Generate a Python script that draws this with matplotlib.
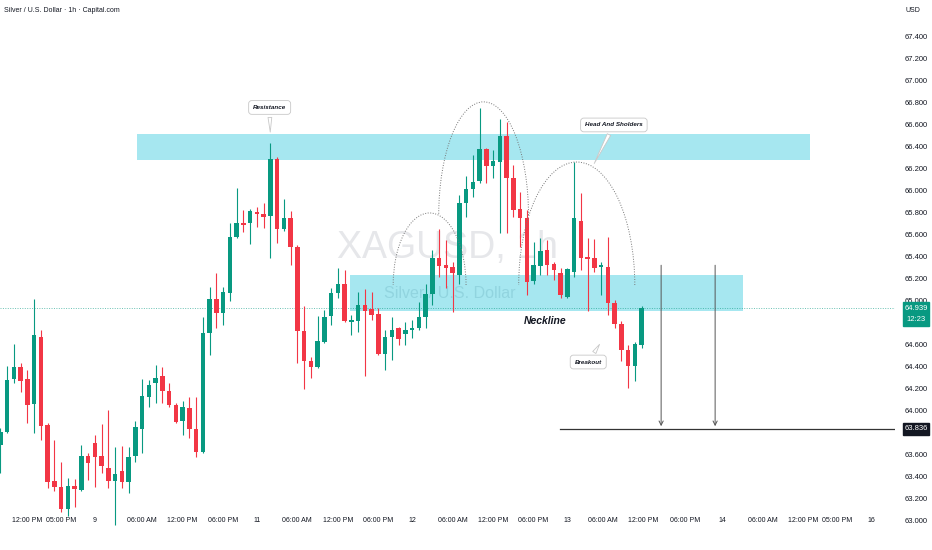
import numpy as np
import matplotlib
matplotlib.use("Agg")
import matplotlib.pyplot as plt
import matplotlib.transforms as mtransforms
from matplotlib.patches import Rectangle, Arc

# Silver / U.S. Dollar, 1h candles
opens = [63.69, 63.81, 64.29, 64.40, 64.29, 64.06, 64.67, 63.87, 63.36, 63.31,
         63.11, 63.32, 63.28, 63.59, 63.71, 63.59, 63.48, 63.36, 63.45, 63.35,
         63.59, 63.84, 64.13, 64.25, 64.32, 64.18, 64.05, 63.91, 64.03, 63.84,
         63.63, 64.71, 65.02, 64.89, 65.07, 65.58, 65.71, 65.71, 65.81, 65.79,
         65.77, 66.29, 65.65, 65.75, 65.49, 64.73, 64.45, 64.40, 64.63, 64.86,
         65.07, 65.15, 64.81, 64.82, 64.96, 64.93, 64.88, 64.52, 64.67, 64.75,
         64.70, 64.74, 64.75, 64.85, 65.06, 65.39, 65.33, 65.31, 65.24, 65.89,
         66.02, 66.09, 66.38, 66.23, 66.26, 66.50, 66.12, 65.84, 65.75, 65.18,
         65.32, 65.46, 65.34, 65.25, 65.04, 65.26, 65.73, 65.40, 65.39, 65.31,
         65.31, 64.98, 64.79, 64.55, 64.41, 64.60]
highs = [63.845, 64.41, 64.61, 64.44, 64.37, 65.02, 64.74, 63.89, 63.74, 63.54,
         63.39, 63.38, 63.69, 63.62, 63.78, 63.88, 64.01, 63.67, 63.68, 63.67,
         63.91, 64.29, 64.28, 64.42, 64.40, 64.25, 64.07, 64.09, 64.13, 64.13,
         64.85, 65.13, 65.25, 65.13, 65.71, 66.03, 65.83, 65.84, 65.85, 65.89,
         66.44, 66.31, 65.93, 65.82, 65.51, 64.95, 64.49, 64.86, 64.92, 65.12,
         65.30, 65.28, 64.87, 65.08, 65.11, 65.08, 64.94, 64.74, 64.85, 64.76,
         64.81, 64.83, 64.99, 65.15, 65.46, 65.65, 65.55, 65.35, 65.96, 66.14,
         66.33, 66.75, 66.39, 66.37, 66.65, 66.63, 66.24, 65.99, 65.83, 65.54,
         65.57, 65.55, 65.35, 65.30, 65.30, 66.26, 65.98, 65.57, 65.56, 65.35,
         65.58, 65.01, 64.82, 64.60, 64.63, 64.95]
lows = [63.436, 63.80, 64.25, 64.17, 63.89, 63.80, 63.74, 63.30, 63.27, 63.08,
        63.045, 63.13, 63.27, 63.37, 63.31, 63.44, 63.30, 62.96, 63.30, 63.25,
        63.54, 63.62, 64.04, 64.07, 64.07, 64.04, 63.89, 63.78, 63.75, 63.58,
        63.62, 64.51, 64.75, 64.78, 65.00, 65.57, 65.63, 65.52, 65.67, 65.66,
        65.39, 65.53, 65.64, 65.33, 64.44, 64.20, 64.30, 64.39, 64.62, 64.78,
        65.03, 64.81, 64.69, 64.72, 64.32, 64.83, 64.51, 64.37, 64.46, 64.60,
        64.60, 64.66, 64.74, 64.75, 64.96, 65.22, 65.12, 64.90, 65.15, 65.76,
        65.945, 66.07, 66.07, 66.12, 65.62, 65.62, 65.76, 65.49, 65.05, 65.15,
        65.24, 65.24, 65.19, 65.03, 65.03, 65.22, 65.28, 64.91, 65.26, 65.05,
        64.87, 64.75, 64.45, 64.21, 64.27, 64.57]
closes = [63.81, 64.28, 64.40, 64.27, 64.05, 64.69, 63.86, 63.35, 63.31, 63.11,
          63.32, 63.29, 63.59, 63.53, 63.58, 63.50, 63.36, 63.43, 63.35, 63.58,
          63.85, 64.14, 64.24, 64.30, 64.18, 64.05, 63.90, 64.04, 63.84, 63.63,
          64.71, 65.02, 64.89, 65.08, 65.58, 65.71, 65.69, 65.82, 65.79, 65.76,
          66.29, 65.65, 65.75, 65.49, 64.73, 64.45, 64.40, 64.64, 64.85, 65.07,
          65.15, 64.82, 64.83, 64.96, 64.91, 64.87, 64.52, 64.67, 64.74, 64.65,
          64.74, 64.75, 64.85, 65.06, 65.39, 65.32, 65.30, 65.25, 65.89, 66.02,
          66.08, 66.38, 66.23, 66.27, 66.50, 66.12, 65.83, 65.75, 65.17, 65.33,
          65.45, 65.33, 65.28, 65.05, 65.29, 65.75, 65.39, 65.38, 65.30, 65.33,
          64.98, 64.79, 64.55, 64.41, 64.61, 64.939]

time_ticks = [4, 9, 14, 21, 27, 33, 38, 44, 50, 56, 61, 67, 73, 79, 84, 89.3,
              95.2, 101.4, 107, 113, 119, 124, 129]
time_labels = ["12:00 PM", "05:00 PM", "9", "06:00 AM", "12:00 PM", "06:00 PM", "11",
               "06:00 AM", "12:00 PM", "06:00 PM", "12", "06:00 AM", "12:00 PM",
               "06:00 PM", "13", "06:00 AM", "12:00 PM", "06:00 PM", "14",
               "06:00 AM", "12:00 PM", "05:00 PM", "16"]
# 63.800 sits under the target price tag, so it has no label
price_ticks = [63.0, 63.2, 63.4, 63.6, 64.0, 64.2, 64.4, 64.6, 64.8, 65.0,
               65.2, 65.4, 65.6, 65.8, 66.0, 66.2, 66.4, 66.6, 66.8, 67.0,
               67.2, 67.4]

last_price = 64.939
countdown = "12:23"
target_price = 63.836
resistance_zone = (66.281, 66.518)
neckline_zone = (64.909, 65.236)

GREEN = "#089981"
RED = "#f23645"
ZONE = "#00bcd4"

plt.rcParams["font.family"] = ["Liberation Sans", "DejaVu Sans"]

W, H = 932, 550
fig = plt.figure(figsize=(W / 100, H / 100), dpi=100)
ax = fig.add_axes([0, 0, 895 / W, 1])
ax.set_xlim(-0.05, 132.55)
ax.set_ylim(62.736, 67.736)
for s in ax.spines.values():
    s.set_visible(False)

# watermark
ax.text(66.2, 65.48, "XAGUSD, 1h", fontsize=27, color="#e6e7ea", ha="center",
        va="center", zorder=0)
ax.text(66.6, 65.07, "Silver / U.S. Dollar", fontsize=11.5, color="#e0e2e6",
        ha="center", va="center", zorder=0)

# zones
ax.add_patch(Rectangle((20.25, resistance_zone[0]), 99.7,
                       resistance_zone[1] - resistance_zone[0],
                       color=ZONE, alpha=0.35, lw=0, zorder=1))
ax.add_patch(Rectangle((51.8, neckline_zone[0]), 58.2,
                       neckline_zone[1] - neckline_zone[0],
                       color=ZONE, alpha=0.35, lw=0, zorder=1))

# last price dotted line
ax.axhline(last_price, color=GREEN, lw=0.7, ls=(0, (1, 1.5)), alpha=0.6, zorder=1.5)

# candles
o = np.array(opens)
h = np.array(highs)
l = np.array(lows)
c = np.array(closes)
idx = np.arange(len(o))
up = c >= o
cols = np.where(up, GREEN, RED)
ax.vlines(idx, l, h, colors=cols, lw=0.8, zorder=2)
body_lo = np.minimum(o, c)
body_h = np.maximum(np.abs(c - o), 0.012)
ax.bar(idx, body_h, bottom=body_lo, width=0.68, color=cols, lw=0, zorder=3)

# head and shoulders arcs
arc_kw = dict(theta1=0, theta2=180, color="#777777", lw=0.7, ls=(0, (1, 1.6)), zorder=4)
ax.add_patch(Arc((63.6, 65.145), 10.8, 1.31, **arc_kw))
ax.add_patch(Arc((71.6, 65.78), 13.3, 2.06, **arc_kw))
ax.add_patch(Arc((85.4, 65.145), 17.2, 2.236, **arc_kw))

# target arrows and line
for xa in [97.9, 105.9]:
    ax.annotate("", xy=(xa, target_price), xytext=(xa, 65.35),
                arrowprops=dict(arrowstyle="->,head_length=0.3,head_width=0.15",
                                color="#555555", lw=0.7), zorder=4)
ax.plot([82.9, 132.55], [target_price, target_price], color="#333333", lw=0.9, zorder=4)

# callouts
box = dict(boxstyle="round,pad=0.7,rounding_size=0.5", fc="white", ec="#c8c8c8", lw=0.6)
wedge = dict(arrowstyle="wedge,tail_width=0.6,shrink_factor=0.5", fc="white",
             ec="#c8c8c8", lw=0.6)
for txt, xy, xyt in [("Resistance", (40.0, 66.51), (39.9, 66.759)),
                     ("Head And Sholders", (87.8, 66.227), (90.9, 66.60)),
                     ("Breakout", (89.0, 64.627), (87.1, 64.445))]:
    ax.annotate(txt, xy=xy, xytext=xyt, fontsize=4.5, style="italic", weight="bold",
                color="#131722", ha="center", va="center", bbox=box,
                arrowprops=wedge, zorder=6)
ax.text(80.7, 64.82, "Neckline", fontsize=7.5, style="italic", weight="bold",
        color="#131722", ha="center", va="center", zorder=6)

# axes / ticks
ax.set_xticks(time_ticks)
ax.set_xticklabels(time_labels)
ax.tick_params(axis="x", length=0, pad=-24, labelsize=5, labelcolor="#131722")
ax.yaxis.tick_right()
ax.set_yticks(price_ticks)
ax.set_yticklabels([f"{p:.3f}" for p in price_ticks])
ax.tick_params(axis="y", length=0, pad=7, labelsize=5.5, labelcolor="#131722")

# right price labels
trans = mtransforms.blended_transform_factory(ax.transAxes, ax.transData)
ax.add_patch(Rectangle((903 / 895, 64.772), 26 / 895, 0.219, transform=trans,
                       color=GREEN, clip_on=False, zorder=10))
ax.text(916 / 895, 64.93, f"{last_price:.3f}", transform=trans, fontsize=5.5,
        color="white", ha="center", va="center", clip_on=False, zorder=11)
ax.text(916 / 895, 64.83, countdown, transform=trans, fontsize=5.5,
        color="white", ha="center", va="center", clip_on=False, zorder=11)
ax.add_patch(Rectangle((903 / 895, target_price - 0.055), 26 / 895, 0.11,
                       transform=trans, color="#131722", clip_on=False, zorder=10))
ax.text(916 / 895, target_price, f"{target_price:.3f}", transform=trans,
        fontsize=5.5, color="white", ha="center", va="center", clip_on=False, zorder=11)

fig.text(4 / W, 1 - 10 / H, "Silver / U.S. Dollar · 1h · Capital.com", fontsize=5,
         color="#131722", ha="left", va="center")
fig.text(913 / W, 1 - 11 / H, "USD", fontsize=5, color="#131722",
         ha="center", va="center")

fig.savefig("out.png", dpi=100)
